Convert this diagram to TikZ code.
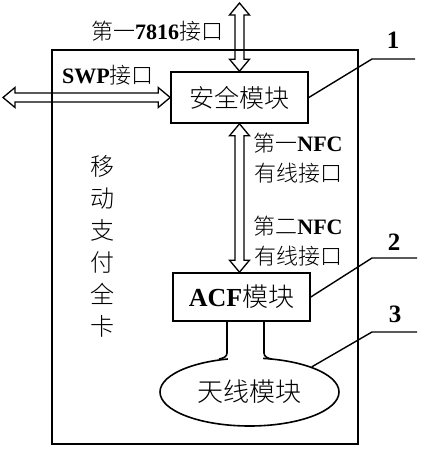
\documentclass[tikz,border=0pt]{standalone}
\usepackage{fontspec}
\setmainfont{Liberation Serif}
\newfontfamily\cjk{Noto Sans CJK SC}[UprightFont={* Light}]
\usetikzlibrary{calc,shapes.geometric}

\newcommand{\zh}[1]{{\cjk #1}}
\newcommand{\fs}[2]{\fontsize{#1}{#2}\selectfont}
\newcommand{\dblarrow}[2]{%
  \draw[dblarrow] (#1)
    -- ($(#1)!12pt!(#2)!10pt!90:(#2)$)
    -- ($(#1)!12pt!(#2)!4.5pt!90:(#2)$)
    -- ($(#2)!12pt!(#1)!4.5pt!-90:(#1)$)
    -- ($(#2)!12pt!(#1)!10pt!-90:(#1)$)
    -- (#2)
    -- ($(#2)!12pt!(#1)!10pt!90:(#1)$)
    -- ($(#2)!12pt!(#1)!4.5pt!90:(#1)$)
    -- ($(#1)!12pt!(#2)!4.5pt!-90:(#2)$)
    -- ($(#1)!12pt!(#2)!10pt!-90:(#2)$)
    -- cycle;}

\tikzset{
  modbox/.style={draw, line width=1.6pt, inner sep=0pt, minimum width=137pt},
  dblarrow/.style={line width=1.3pt, line join=miter},
  leader/.style={line width=1.4pt},
  lbl/.style={inner sep=0pt, font=\fs{22}{30}, align=center},
  num/.style={inner sep=0pt, font=\fs{25}{25}\bfseries}
}

\begin{document}
\begin{tikzpicture}[x=1pt, y=1pt]
  \useasboundingbox (0,0) rectangle (421,-450);
  \node[draw, line width=1.6pt, minimum width=306pt, minimum height=394pt] (card) at (205,-247) {};
  \node[modbox, minimum height=51pt, font=\fs{25}{30}] (sec) at (239.5,-97.5) {\zh{安全模块}};
  \node[modbox, minimum height=48pt, font=\fs{26}{30}] (acf) at (241.5,-297) {\textbf{ACF}\zh{模块}};
  \node[ellipse, draw, line width=1.6pt, inner sep=0pt, minimum width=179pt, minimum height=68pt, font=\fs{26}{30}] (ant) at (249.5,-392) {\zh{天线模块}};

  \coordinate (t7816) at (sec.north |- 0,-3);
  \coordinate (swp) at (sec.west -| 3,0);
  \dblarrow{t7816}{sec.north}
  \dblarrow{swp}{sec.west}
  \dblarrow{sec.south}{sec.south |- acf.north}

  \fill[white] (228,-351) rectangle (263,-363);
  \coordinate (stemL) at (227,-321);
  \coordinate (stemR) at (264,-321);
  \draw[line width=1.6pt] (stemL) -- ++(0,-32) to[out=-90,in=8] ++(-8,-6);
  \draw[line width=1.6pt] (stemR) -- ++(0,-32) to[out=-90,in=174] ++(8,-6);

  \node[lbl] (l7816) at (157,-31) {\zh{第一}\textbf{7816}\zh{接口}};
  \node[lbl] (lswp) at (108,-75) {\textbf{SWP}\zh{接口}};
  \node[lbl] (lnfc1) at (298,-158) {\zh{第一}\textbf{NFC}\\\zh{有线接口}};
  \node[lbl] (lnfc2) at (298,-241) {\zh{第二}\textbf{NFC}\\\zh{有线接口}};
  \node[lbl, font=\fs{24}{32}] (lcard) at (102,-246.5) {\zh{移}\\\zh{动}\\\zh{支}\\\zh{付}\\\zh{全}\\\zh{卡}};

  \coordinate (k1) at (372,-59);
  \coordinate (k2) at (372,-258);
  \coordinate (k3) at (372,-332);
  \draw[leader] (sec.east) -- (k1) -- ++(43,0);
  \draw[leader] (acf.east) -- (k2) -- ++(45,0);
  \draw[leader] (ant.22) -- (k3) -- ++(45,0);
  \node[num] (n1) at (393,-40) {1};
  \node[num] (n2) at (394,-242) {2};
  \node[num] (n3) at (395,-314) {3};
\end{tikzpicture}
\end{document}
